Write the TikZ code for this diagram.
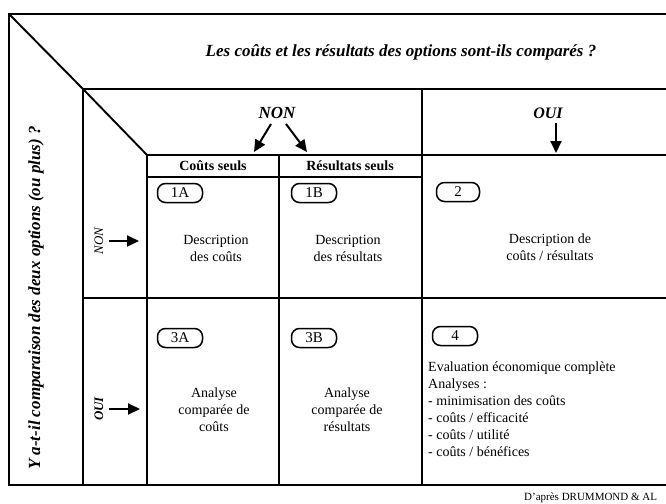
\documentclass[tikz,border=0pt]{standalone}
\usepackage{fontspec}
\setmainfont{Liberation Serif}
\usetikzlibrary{arrows.meta}
\begin{document}
\begin{tikzpicture}[x=1pt,y=-1pt,
  frame/.style={line width=1.9pt},
  gridline/.style={line width=1.2pt},
  arr/.style={line width=2pt,-{Triangle[length=12pt,width=11pt]}},
  hdr/.style={font=\fontsize{17}{20}\selectfont\bfseries\itshape, inner sep=0pt},
  colhdr/.style={font=\fontsize{14}{16}\selectfont\bfseries, inner sep=0pt},
  body/.style={font=\fontsize{14}{17}\selectfont, align=center, inner sep=0pt},
  tag/.style={draw, line width=1.5pt, rounded corners=8pt, minimum width=45pt, minimum height=19pt, inner sep=0pt, font=\fontsize{15}{15}\selectfont}
]
\useasboundingbox (0,0) rectangle (666,503);
% frame coordinates
\coordinate (TL) at (9,14);
\coordinate (TR) at (666,14);
\coordinate (BL) at (9,485);
\coordinate (BR) at (666,485);
\coordinate (IL) at (83,89);
\coordinate (IR) at (666,89);
\coordinate (ILB) at (83,485);
\coordinate (K) at (147,155);
\coordinate (KR) at (666,155);
\coordinate (KB) at (147,485);
\coordinate (M) at (279,155);
\coordinate (MB) at (279,485);
\coordinate (N) at (422,89);
\coordinate (NB) at (422,485);
\coordinate (S) at (147,177);
\coordinate (SR) at (422,177);
\coordinate (R) at (83,298);
\coordinate (RR) at (666,298);

\draw[frame] (TR) -- (TL) -- (BL) -- (BR);
\draw[frame] (TL) -- (IL);
\draw[frame] (IL) -- (IR);
\draw[frame] (IL) -- (K);
\draw[gridline] (IL) -- (ILB);
\draw[gridline] (K) -- (KR);
\draw[gridline] (S) -- (SR);
\draw[gridline] (K) -- (KB);
\draw[gridline] (M) -- (MB);
\draw[gridline] (N) -- (NB);
\draw[gridline] (R) -- (RR);

% questions
\node[hdr] (q1) at (401,52) {Les coûts et les résultats des options sont-ils comparés ?};
\node[hdr, rotate=90] (q2) at (36,298) {Y a-t-il comparaison des deux options (ou plus) ?};

% top answers
\node[font=\fontsize{17}{20}\selectfont\bfseries\itshape, inner sep=0pt] (non1) at (277,113) {NON};
\coordinate (n1a) at (271,124);
\coordinate (n1b) at (254,152);
\coordinate (n1c) at (286,124);
\coordinate (n1d) at (307,152);
\draw[arr] (n1a) -- (n1b);
\draw[arr] (n1c) -- (n1d);
\node[font=\fontsize{16}{20}\selectfont\bfseries\itshape, inner sep=0pt] (oui1) at (548,113) {OUI};
\coordinate (o1a) at (556,123);
\coordinate (o1b) at (556,153);
\draw[arr] (o1a) -- (o1b);

% left answers
\node[font=\fontsize{13}{14}\selectfont\itshape, rotate=90, inner sep=0pt] (non2) at (99,241) {NON};
\coordinate (n2a) at (109,241);
\coordinate (n2b) at (139,241);
\draw[arr] (n2a) -- (n2b);
\node[font=\fontsize{13}{14}\selectfont\bfseries\itshape, rotate=90, inner sep=0pt] (oui2) at (99,409) {OUI};
\coordinate (o2a) at (109,409);
\coordinate (o2b) at (140,409);
\draw[arr] (o2a) -- (o2b);

% column headers
\node[colhdr] (ch1) at (213,166) {Coûts seuls};
\node[colhdr] (ch2) at (350,166) {Résultats seuls};

% tags
\node[tag] (t1A) at (180,193) {1A};
\node[tag] (t1B) at (314,193) {1B};
\node[tag, minimum width=43pt] (t2) at (458,192) {2};
\node[tag] (t3A) at (180,338) {3A};
\node[tag] (t3B) at (314,338) {3B};
\node[tag] (t4) at (455,336) {4};

% cell texts
\node[body] (d1) at (216,248) {Description\\des coûts};
\node[body] (d2) at (348,248) {Description\\des résultats};
\node[body] (d3) at (550,247) {Description de\\coûts / résultats};
\node[body] (a1) at (214,410) {Analyse\\comparée de\\coûts};
\node[body] (a2) at (347,410) {Analyse\\comparée de\\résultats};
\node[body, align=left, anchor=north west] (e4) at (428,362) {Evaluation économique complète\\Analyses :\\- minimisation des coûts\\- coûts / efficacité\\- coûts / utilité\\- coûts / bénéfices};

\node[font=\fontsize{11}{12}\selectfont, anchor=base west, inner sep=0pt] (src) at (524,500) {D’après DRUMMOND \& AL};
\end{tikzpicture}
\end{document}
